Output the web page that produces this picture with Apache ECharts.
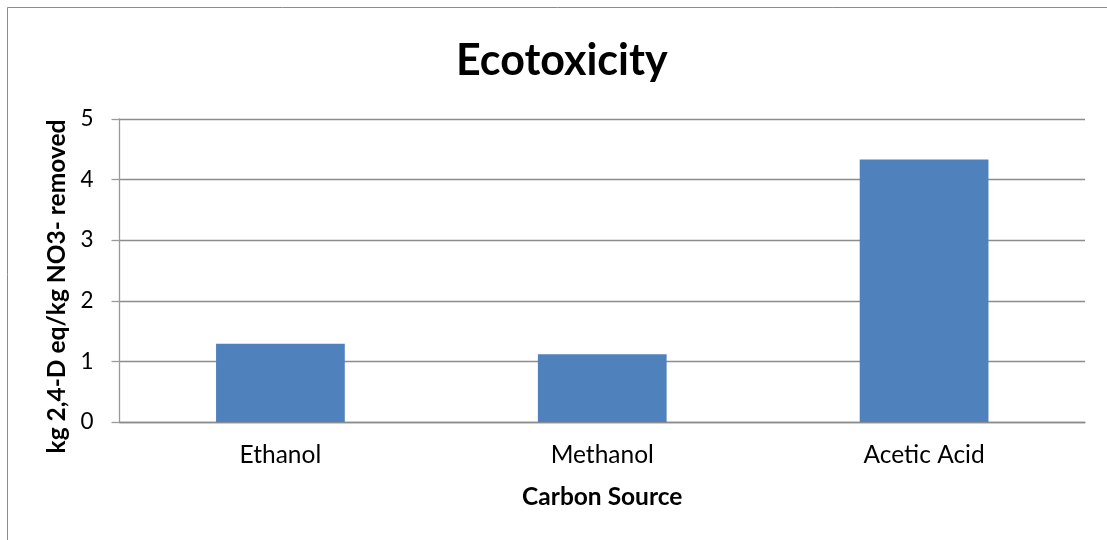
<!DOCTYPE html>
<html>
<head>
<meta charset="utf-8">
<script src="https://cdn.jsdelivr.net/npm/echarts@6/dist/echarts.min.js"></script>
<style>
  html, body { margin: 0; padding: 0; background: #ffffff; }
  #chart { width: 1107px; height: 540px; }
</style>
</head>
<body>
<div id="chart"></div>
<script>
// Ecotoxicity per carbon source
const categories = ['Ethanol', 'Methanol', 'Acetic Acid'];
const ecotoxicity = [1.29, 1.12, 4.33];
const yTicks = [0, 1, 2, 3, 4, 5];

const FONT = 'Lato, "Open Sans", sans-serif';
const chart = echarts.init(document.getElementById('chart'), null, { renderer: 'canvas' });

chart.setOption({
  backgroundColor: '#ffffff',
  animation: false,
  graphic: [{
    type: 'rect',
    shape: { x: 7.5, y: 7.5, width: 1300, height: 700 },
    style: { fill: 'none', stroke: '#8c8c8c', lineWidth: 1 },
    silent: true
  }],
  title: {
    text: 'Ecotoxicity',
    left: 451,
    top: 35,
    textStyle: { fontFamily: FONT, fontSize: 43, fontWeight: 'bold', color: '#000' }
  },
  grid: { left: 119.5, right: 22, top: 119, bottom: 118, containLabel: false },
  xAxis: {
    type: 'category',
    data: categories,
    name: 'Carbon Source',
    nameLocation: 'middle',
    nameGap: 63,
    nameTextStyle: { fontFamily: FONT, fontSize: 24.5, fontWeight: 'bold', color: '#000' },
    axisLine: { lineStyle: { color: '#8c8c8c', width: 1.3 } },
    axisTick: { show: false },
    axisLabel: { fontFamily: FONT, fontSize: 24.5, color: '#000', margin: 21 }
  },
  yAxis: {
    type: 'value',
    min: yTicks[0],
    max: yTicks[yTicks.length - 1],
    interval: 1,
    name: 'kg 2,4-D eq/kg NO3- removed',
    nameLocation: 'middle',
    nameGap: 50,
    nameTextStyle: {
      fontFamily: FONT, fontSize: 24.5, fontWeight: 'bold', color: '#000',
      padding: [0, 32, 0, 0]
    },
    axisLine: { show: true, lineStyle: { color: '#9a9a9a', width: 1.3 } },
    axisTick: { show: true, inside: false, length: 8, lineStyle: { color: '#9a9a9a', width: 1.3 } },
    axisLabel: { fontFamily: FONT, fontSize: 22.5, color: '#000', margin: 26 },
    splitLine: { show: true, lineStyle: { color: '#8c8c8c', width: 1.3 } }
  },
  series: [{
    type: 'bar',
    data: ecotoxicity,
    barWidth: '40%',
    itemStyle: { color: '#4F81BD' }
  }]
});
</script>
</body>
</html>
